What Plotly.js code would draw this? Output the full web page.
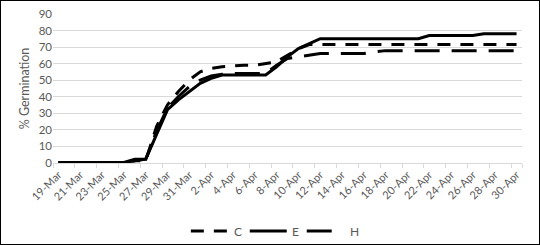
<!DOCTYPE html>
<html>
<head>
<meta charset="utf-8">
<script src="https://cdn.plot.ly/plotly-3.0.1.min.js"></script>
<style>
html,body{margin:0;padding:0;background:#fff;}
#wrap{width:540px;height:245px;box-sizing:border-box;border:1px solid #000;overflow:hidden;}
#chart{width:538px;height:243px;}
</style>
</head>
<body>
<div id="wrap"><div id="chart"></div></div>
<script>
const dates = ["19-Mar","20-Mar","21-Mar","22-Mar","23-Mar","24-Mar","25-Mar","26-Mar","27-Mar","28-Mar","29-Mar","30-Mar","31-Mar",
  "1-Apr","2-Apr","3-Apr","4-Apr","5-Apr","6-Apr","7-Apr","8-Apr","9-Apr","10-Apr","11-Apr","12-Apr","13-Apr","14-Apr","15-Apr",
  "16-Apr","17-Apr","18-Apr","19-Apr","20-Apr","21-Apr","22-Apr","23-Apr","24-Apr","25-Apr","26-Apr","27-Apr","28-Apr","29-Apr","30-Apr"];

const seriesC = [0,0,0,0,0,0,0,1,1,22,35,43,50,55,57,58,58.5,59,59,60,61,65,69,71.5,71.5,71.5,71.5,71.5,71.5,71.5,71.5,71.5,71.5,71.5,71.5,71.5,71.5,71.5,71.5,71.5,71.5,71.5,71.5];
const seriesE = [0,0,0,0,0,0,0,2,2,17,32,38,43,48,51,53,53,53,53,53,58,64,69,72,75,75,75,75,75,75,75,75,75,75,77,77,77,77,77,78,78,78,78];
const seriesH = [0,0,0,0,0,0,0,1,2,19,33,40,46,50,52.5,53.5,54,54,54,54,59,63,64,65,66,66,66,66,66,67,67.8,67.8,67.8,67.8,67.8,67.8,67.8,67.8,67.8,67.8,67.8,67.8,67.8];

const tickLabels = ["19-Mar","21-Mar","23-Mar","25-Mar","27-Mar","29-Mar","31-Mar","2-Apr","4-Apr","6-Apr","8-Apr","10-Apr",
  "12-Apr","14-Apr","16-Apr","18-Apr","20-Apr","22-Apr","24-Apr","26-Apr","28-Apr","30-Apr"];
const seriesNames = ["C","E","H"];
const seriesDash = ["13px,10px", "solid", "25px,12px"];

const FONT = "Lato, 'Open Sans', 'DejaVu Sans', sans-serif";
const GREY = "#595959";

const W = 538, H = 243;
const M = {l: 51.5, r: 17, t: 13, b: 81};
const PW = W - M.l - M.r, PH = H - M.t - M.b;
const px = x => (x - M.l) / PW;
const py = y => (H - M.b - y) / PH;

const seriesList = [seriesC, seriesE, seriesH];
const traces = seriesList.map((s, i) => ({
  x: dates, y: s, name: seriesNames[i], type: "scatter", mode: "lines",
  line: {color: "#000", width: 3, dash: seriesDash[i]}
}));

// manual legend (positions in pixels of the chart div)
const legendLines = [[189.5, 226], [248.5, 285.5], [305.5, 331]];
const legendText = [230.5, 289, 346.5];
const legendY = 230;
const shapes = legendLines.map((l, i) => ({
  type: "line", xref: "paper", yref: "paper",
  x0: px(l[0]), x1: px(l[1]), y0: py(legendY), y1: py(legendY),
  line: {color: "#000", width: 3, dash: seriesDash[i]}
}));
const annotations = legendText.map((x, i) => ({
  xref: "paper", yref: "paper", x: px(x), y: py(legendY), xanchor: "left", yanchor: "middle",
  text: seriesNames[i], showarrow: false, font: {family: FONT, color: GREY, size: 12}
}));

const layout = {
  width: W, height: H,
  margin: {l: M.l, r: M.r, t: M.t, b: M.b, pad: 0},
  paper_bgcolor: "#fff", plot_bgcolor: "#fff",
  font: {family: FONT, color: GREY, size: 11},
  showlegend: false,
  shapes: shapes, annotations: annotations,
  xaxis: {
    type: "category", categoryorder: "array", categoryarray: dates,
    range: [-0.5, dates.length - 0.5],
    tickmode: "array", tickvals: tickLabels, ticktext: tickLabels,
    tickangle: -45, tickfont: {family: FONT, color: GREY, size: 11},
    ticks: "outside", ticklen: 4, tickcolor: "#d9d9d9", tickson: "boundaries",
    showgrid: false, zeroline: false, automargin: false,
    showline: true, linecolor: "#d9d9d9", linewidth: 1,
    fixedrange: true
  },
  yaxis: {
    range: [-0.3, 90], tickmode: "linear", tick0: 0, dtick: 10,
    tickfont: {family: FONT, color: GREY, size: 11.5}, automargin: false,
    showgrid: true, gridcolor: "#d9d9d9", gridwidth: 1,
    zeroline: false, showline: false, ticks: "",
    title: {text: "% Germination", font: {family: FONT, color: GREY, size: 12.5}, standoff: 6},
    fixedrange: true
  }
};

Plotly.newPlot("chart", traces, layout, {displayModeBar: false, staticPlot: true});
</script>
</body>
</html>
